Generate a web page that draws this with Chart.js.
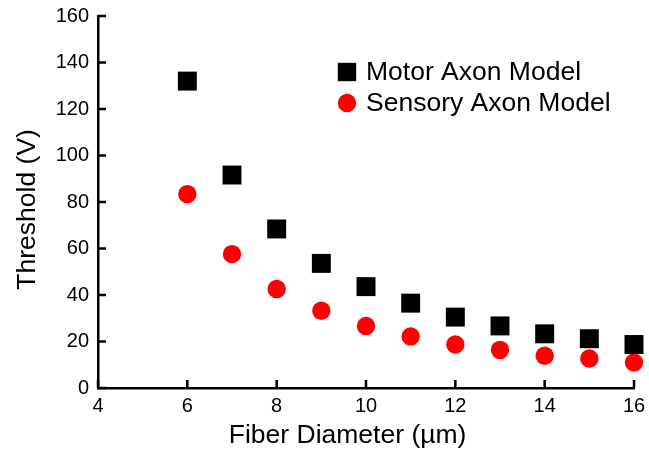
<!DOCTYPE html>
<html lang="en">
<head>
<meta charset="UTF-8">
<title>Threshold vs Fiber Diameter</title>
<style>
  html, body { margin: 0; padding: 0; background: #fff; }
  #wrap { width: 649px; height: 456px; }
</style>
</head>
<body>
<div id="wrap"><canvas id="chart"></canvas></div>
<script src="https://cdn.jsdelivr.net/npm/chart.js"></script>
<script>
  // data
  const diameters = [6, 7, 8, 9, 10, 11, 12, 13, 14, 15, 16];
  const motorThreshold = [132, 91.6, 68.4, 53.6, 43.6, 36.5, 30.5, 26.7, 23.3, 21.2, 18.7];
  const sensoryThreshold = [83.4, 57.6, 42.6, 33.2, 26.7, 22.2, 18.7, 16.4, 13.9, 12.7, 11.0];
  const seriesNames = ['Motor Axon Model', 'Sensory Axon Model'];
  const xRange = [4, 16], xStep = 2;
  const yRange = [0, 160], yStep = 20;

  const FONT = '"Liberation Sans", Arial, sans-serif';
  const NBSP = '\u00a0';

  // ticks point inward, so draw them by hand from the scale ticks
  const inwardTicks = {
    id: 'inwardTicks',
    afterDraw(chart) {
      const ctx = chart.ctx, area = chart.chartArea;
      const xs = chart.scales.x, ys = chart.scales.y;
      ctx.save();
      ctx.strokeStyle = '#000';
      ctx.lineWidth = 2.5;
      ctx.beginPath();
      xs.ticks.forEach(t => {
        const px = xs.getPixelForValue(t.value);
        ctx.moveTo(px, area.bottom);
        ctx.lineTo(px, area.bottom - 8);
      });
      ys.ticks.forEach(t => {
        const py = ys.getPixelForValue(t.value);
        ctx.moveTo(area.left, py);
        ctx.lineTo(area.left + 8, py);
      });
      ctx.stroke();
      ctx.restore();
    }
  };

  // legend inside the plot, top right
  const insideLegend = {
    id: 'insideLegend',
    afterDraw(chart) {
      const ctx = chart.ctx;
      const x0 = 347, y0 = 72, gap = 31;
      ctx.save();
      ctx.font = '26.5px ' + FONT;
      ctx.textBaseline = 'middle';
      chart.data.datasets.forEach((ds, i) => {
        const y = y0 + i * gap;
        ctx.fillStyle = ds.backgroundColor;
        Chart.helpers.drawPoint(ctx, {
          pointStyle: ds.pointStyle,
          radius: ds.pointStyle === 'rect' ? 13 : 9.2,
          borderWidth: 0,
          rotation: 0
        }, x0, y);
        ctx.fillStyle = '#000';
        ctx.fillText(ds.label, x0 + 19, y + 1);
      });
      ctx.restore();
    }
  };

  const ctx = document.getElementById('chart').getContext('2d');
  const chart = new Chart(ctx, {
    type: 'scatter',
    data: {
      datasets: [
        {
          label: seriesNames[0],
          data: diameters.map((d, i) => ({x: d, y: motorThreshold[i]})),
          pointStyle: 'rect',
          pointRadius: 13.4,
          backgroundColor: '#000000',
          borderWidth: 0,
          clip: false
        },
        {
          label: seriesNames[1],
          data: diameters.map((d, i) => ({x: d, y: sensoryThreshold[i]})),
          pointStyle: 'circle',
          pointRadius: 9.2,
          backgroundColor: '#ff0000',
          borderWidth: 0,
          clip: false
        }
      ]
    },
    options: {
      responsive: true,
      maintainAspectRatio: false,
      animation: false,
      layout: { padding: { top: 16, right: 15, left: 0, bottom: 0 } },
      plugins: {
        legend: { display: false },
        tooltip: { enabled: false }
      },
      scales: {
        x: {
          type: 'linear',
          min: xRange[0],
          max: xRange[1],
          grid: { display: false, drawTicks: false },
          border: { display: true, color: '#000', width: 2.5 },
          ticks: {
            stepSize: xStep,
            color: '#000',
            padding: 6,
            maxRotation: 0,
            font: { family: FONT, size: 20 }
          },
          title: {
            display: true,
            // trailing spaces nudge the centred title left like the original
            text: 'Fiber Diameter (\u00b5m)' + NBSP.repeat(5),
            color: '#000',
            font: { family: FONT, size: 26.5 },
            padding: { top: 0, bottom: 4 }
          },
          afterFit(scale) {
            scale.height = 68;
            scale.paddingLeft = 0;
            scale.paddingRight = 0;
          }
        },
        y: {
          min: yRange[0],
          max: yRange[1],
          grid: { display: false, drawTicks: false },
          border: { display: true, color: '#000', width: 2.5 },
          ticks: {
            stepSize: yStep,
            color: '#000',
            padding: 9,
            font: { family: FONT, size: 20 }
          },
          title: {
            display: true,
            text: 'Threshold (V)' + NBSP.repeat(2),
            color: '#000',
            font: { family: FONT, size: 26.5 },
            padding: { top: 12, bottom: 0 }
          },
          afterFit(scale) {
            scale.width = 98;
            scale.paddingTop = 0;
            scale.paddingBottom = 0;
          }
        }
      }
    },
    plugins: [inwardTicks, insideLegend]
  });
</script>
</body>
</html>
